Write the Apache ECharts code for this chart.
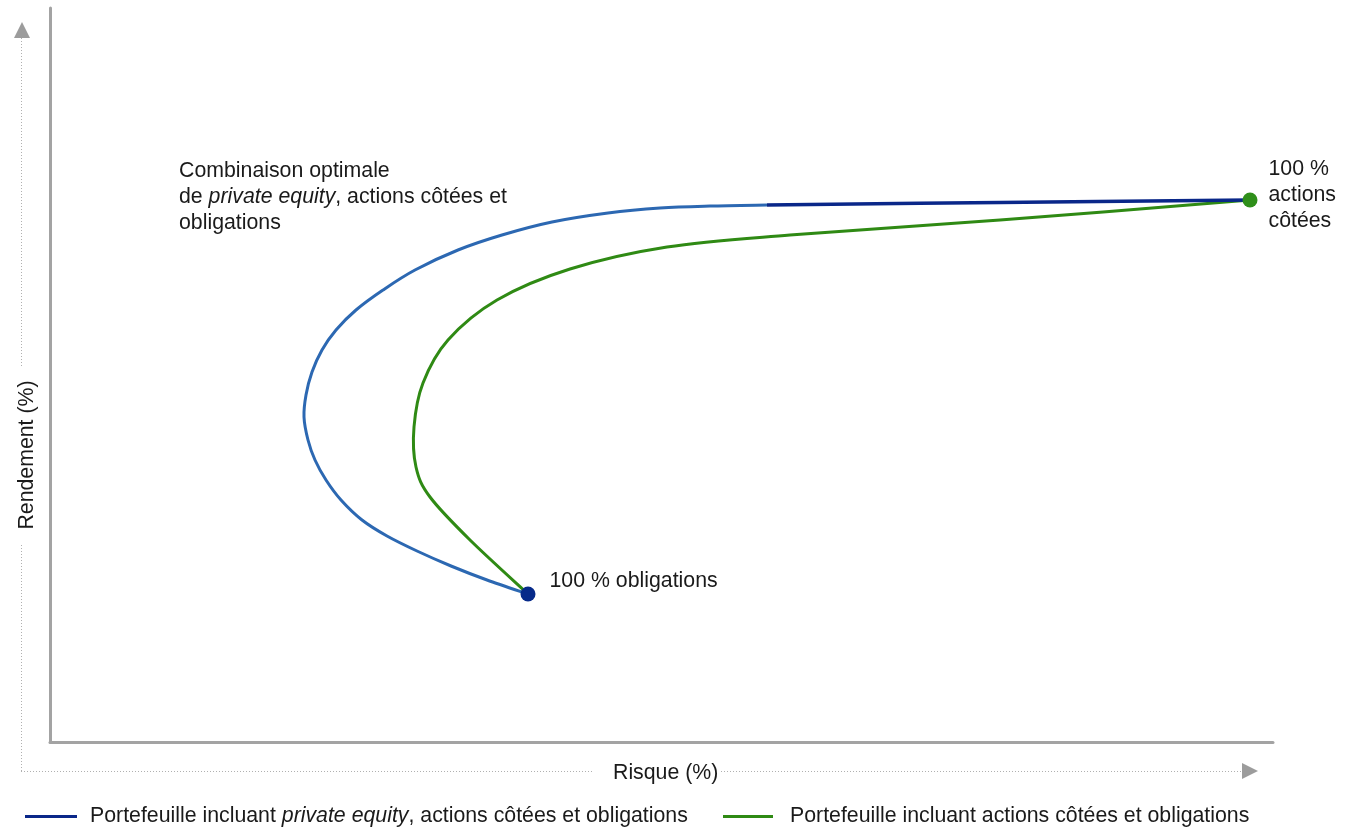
<!DOCTYPE html>
<html>
<head>
<meta charset="utf-8">
<script src="https://cdn.jsdelivr.net/npm/echarts@6/dist/echarts.min.js"></script>
<style>
  html, body { margin: 0; padding: 0; background: #fff; }
  #chart { width: 1349px; height: 829px; }
</style>
</head>
<body>
<div id="chart"></div>
<script>
// Efficient frontiers: risk (x) vs return (y), in %.
// Portfolio with private equity, listed equities and bonds (curved part).
const peCurve = [
  [9.56, 2.96], [8.74, 3.24], [8.02, 3.52], [7.34, 3.82], [6.74, 4.12],
  [6.24, 4.44], [5.82, 4.84], [5.52, 5.24], [5.30, 5.64], [5.16, 6.04],
  [5.08, 6.50], [5.12, 6.94], [5.24, 7.40], [5.44, 7.84], [5.72, 8.24],
  [6.12, 8.64], [6.66, 9.04], [7.30, 9.44], [8.16, 9.84], [9.04, 10.14],
  [10.04, 10.40], [11.16, 10.58], [12.20, 10.68], [13.20, 10.72], [14.34, 10.74]
];
// Upper stretch of the same frontier, up to 100 % listed equities.
const peUpper = [[14.34, 10.74], [19.00, 10.79], [24.00, 10.84]];
// Portfolio with listed equities and bonds only.
const stockBond = [
  [9.56, 2.96], [8.40, 4.04], [7.60, 4.90], [7.32, 5.50], [7.28, 6.30],
  [7.46, 7.18], [7.96, 8.04], [8.94, 8.84], [10.40, 9.46], [12.34, 9.90],
  [14.80, 10.14], [19.00, 10.44], [24.00, 10.84]
];
const bondPoint = [9.56, 2.96];
const stockPoint = [24.00, 10.84];

const seriesNames = [
  'Portefeuille incluant private equity, actions côtées et obligations',
  'Portefeuille incluant actions côtées et obligations'
];
const bondLabel = '100 % obligations';
const stockLabel = '100 %\nactions\ncôtées';
const xName = 'Risque (%)';
const yName = 'Rendement (%)';

const FONT = '"Liberation Sans", Arial, sans-serif';
const FS = 21.3;
const INK = '#1a1a1a';
const GREY = '#a3a3a3';
const DOT = '#b0b0b0';

// Smooth curve through every point (Catmull-Rom converted to cubic Bezier).
function curvePath(pts) {
  const n = pts.length;
  let d = 'M' + pts[0][0] + ',' + pts[0][1];
  for (let i = 0; i < n - 1; i++) {
    const p0 = pts[Math.max(i - 1, 0)];
    const p1 = pts[i];
    const p2 = pts[i + 1];
    const p3 = pts[Math.min(i + 2, n - 1)];
    const c1x = p1[0] + (p2[0] - p0[0]) / 6;
    const c1y = p1[1] + (p2[1] - p0[1]) / 6;
    const c2x = p2[0] - (p3[0] - p1[0]) / 6;
    const c2y = p2[1] - (p3[1] - p1[1]) / 6;
    d += ' C' + c1x + ',' + c1y + ' ' + c2x + ',' + c2y + ' ' + p2[0] + ',' + p2[1];
  }
  return d;
}

// A frontier drawn as one smooth path, positioned through the chart's axes.
function frontierSeries(name, data, color, width, z) {
  return {
    name: name, type: 'custom', data: data, z: z,
    encode: { x: 0, y: 1 },
    itemStyle: { color: color },
    renderItem: function (params, api) {
      if (params.dataIndex !== 0) return null;
      const pts = data.map(function (p) { return api.coord(p); });
      return {
        type: 'path',
        shape: { pathData: curvePath(pts) },
        style: { stroke: color, lineWidth: width, fill: null, lineJoin: 'round', lineCap: 'butt' }
      };
    }
  };
}

const chart = echarts.init(document.getElementById('chart'), null, { renderer: 'canvas' });

const legendRich = {
  n: { fontFamily: FONT, fontSize: FS, color: INK },
  i: { fontFamily: FONT, fontSize: FS, color: INK, fontStyle: 'italic' }
};

chart.setOption({
  animation: false,
  backgroundColor: '#ffffff',
  grid: { left: 50, right: 76, top: 8, bottom: 87 },
  xAxis: {
    type: 'value', min: 0, max: 24.46,
    axisLine: { show: true, lineStyle: { color: GREY, width: 3 } },
    axisTick: { show: false }, axisLabel: { show: false }, splitLine: { show: false }
  },
  yAxis: {
    type: 'value', min: 0, max: 14.68,
    axisLine: { show: true, lineStyle: { color: GREY, width: 3 } },
    axisTick: { show: false }, axisLabel: { show: false }, splitLine: { show: false }
  },
  legend: [
    {
      data: [seriesNames[0]], left: 25, top: 806, icon: 'rect',
      itemWidth: 52, itemHeight: 3, padding: 0,
      textStyle: { padding: [0, 0, 0, 8], rich: legendRich },
      formatter: () => '{n|Portefeuille incluant }{i|private equity}{n|, actions côtées et obligations}'
    },
    {
      data: [seriesNames[1]], left: 723, top: 806, icon: 'rect',
      itemWidth: 50, itemHeight: 3, padding: 0,
      textStyle: { padding: [0, 0, 0, 12], rich: legendRich },
      formatter: (name) => '{n|' + name + '}'
    }
  ],
  series: [
    frontierSeries('pe-curve', peCurve, '#2c68b2', 3, 2),
    frontierSeries(seriesNames[0], peUpper, '#0a2789', 3.5, 3),
    frontierSeries(seriesNames[1], stockBond, '#2f8a14', 3, 2),
    {
      name: 'bond', type: 'scatter', data: [bondPoint], symbolSize: 15,
      itemStyle: { color: '#062a8a', opacity: 1 }, z: 5,
      label: {
        show: true, position: 'right', distance: 14, offset: [0, -13],
        formatter: bondLabel, fontFamily: FONT, fontSize: FS, color: INK
      }
    },
    {
      name: 'stock', type: 'scatter', data: [stockPoint], symbolSize: 15,
      itemStyle: { color: '#2f8f1a', opacity: 1 }, z: 5,
      label: {
        show: true, position: 'right', distance: 11, offset: [0, -5],
        formatter: stockLabel, fontFamily: FONT, fontSize: FS, lineHeight: 26,
        color: INK, align: 'left'
      }
    }
  ],
  graphic: [
    // vertical dotted arrow (return)
    { type: 'polygon', shape: { points: [[14, 38], [30, 38], [22, 22]] }, style: { fill: '#9c9c9c' }, silent: true },
    { type: 'line', shape: { x1: 21.5, y1: 38, x2: 21.5, y2: 366 }, style: { stroke: DOT, lineWidth: 1, lineDash: [1, 2] }, silent: true },
    { type: 'line', shape: { x1: 21.5, y1: 545, x2: 21.5, y2: 772 }, style: { stroke: DOT, lineWidth: 1, lineDash: [1, 2] }, silent: true },
    // horizontal dotted arrow (risk)
    { type: 'line', shape: { x1: 21, y1: 771.5, x2: 592, y2: 771.5 }, style: { stroke: DOT, lineWidth: 1, lineDash: [1, 2] }, silent: true },
    { type: 'line', shape: { x1: 721, y1: 771.5, x2: 1242, y2: 771.5 }, style: { stroke: DOT, lineWidth: 1, lineDash: [1, 2] }, silent: true },
    { type: 'polygon', shape: { points: [[1242, 763], [1242, 779], [1258, 771]] }, style: { fill: '#9c9c9c' }, silent: true },
    // axis titles
    {
      type: 'text', x: 27, y: 455, rotation: Math.PI / 2, silent: true,
      style: { text: yName, fontFamily: FONT, fontSize: FS, fill: INK, align: 'center', verticalAlign: 'middle' }
    },
    {
      type: 'text', x: 613, y: 773, silent: true,
      style: { text: xName, fontFamily: FONT, fontSize: FS, fill: INK, align: 'left', verticalAlign: 'middle' }
    },
    // annotation for the optimal mix
    {
      type: 'text', x: 179, y: 158.5, silent: true,
      style: {
        text: '{n|Combinaison optimale}\n{n|de }{i|private equity}{n|, actions côtées et}\n{n|obligations}',
        fontFamily: FONT, fontSize: FS, fill: INK, align: 'left', verticalAlign: 'top',
        rich: {
          n: { fontFamily: FONT, fontSize: FS, fill: INK, lineHeight: 26 },
          i: { fontFamily: FONT, fontSize: FS, fill: INK, fontStyle: 'italic', lineHeight: 26 }
        }
      }
    }
  ]
});
</script>
</body>
</html>
